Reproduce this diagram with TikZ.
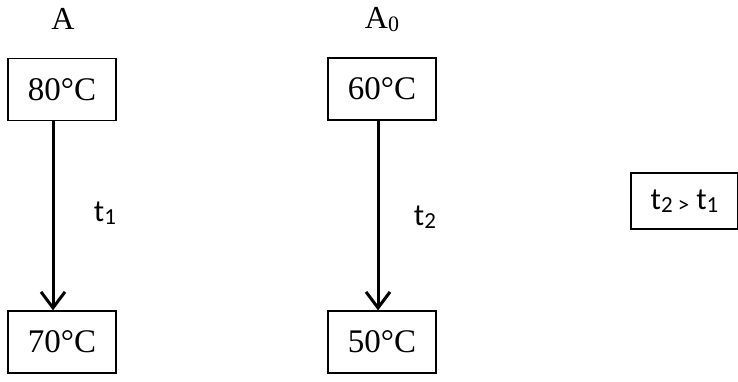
\documentclass[tikz,border=0pt]{standalone}
\usepackage{fontspec}
\setmainfont{Liberation Serif}
\newfontfamily\carlitofont{Carlito}
\usetikzlibrary{arrows.meta}
\newcommand{\lowsub}[1]{\raisebox{-3pt}{\fontsize{23}{23}\selectfont #1}}
\newcommand{\lowsubs}[1]{\raisebox{-3pt}{\fontsize{22}{22}\selectfont #1}}
\tikzset{
  tbox/.style={draw=black, line width=1.2pt, minimum width=108pt, minimum height=62pt, inner sep=0pt, font=\fontsize{33}{33}\selectfont},
  head/.style={inner sep=0pt, font=\fontsize{32}{32}\selectfont},
  tlab/.style={inner sep=0pt, font=\carlitofont\fontsize{31}{31}\selectfont},
  flow/.style={line width=3pt, -{Straight Barb[length=16pt,width=24pt,line width=3pt]}}
}
\begin{document}
\begin{tikzpicture}[x=1pt,y=-1pt]
\useasboundingbox (0,0) rectangle (738,381);
\node[head] (hA) at (63,19) {A};
\node[head] (hA0) at (382,20) {A\lowsubs{0}};
\node[tbox] (b80) at (62,89.5) {80°C};
\node[tbox] (b70) at (62,342) {70°C};
\node[tbox] (b60) at (382,89) {60°C};
\node[tbox] (b50) at (382,342) {50°C};
\draw[flow] (b80.south -| 53,0) -- (b70.north -| 53,0);
\draw[flow] (b60.south -| 378,0) -- (b50.north -| 378,0);
\node[tlab] (t1) at (105,213) {t\lowsub{1}};
\node[tlab] (t2) at (425,217) {t\lowsub{2}};
\node[tbox, minimum width=107pt, minimum height=56pt, font=\carlitofont\fontsize{31}{31}\selectfont] (cmp) at (684.5,201) {t\lowsub{2 >} t\lowsub{1}};
\end{tikzpicture}
\end{document}
